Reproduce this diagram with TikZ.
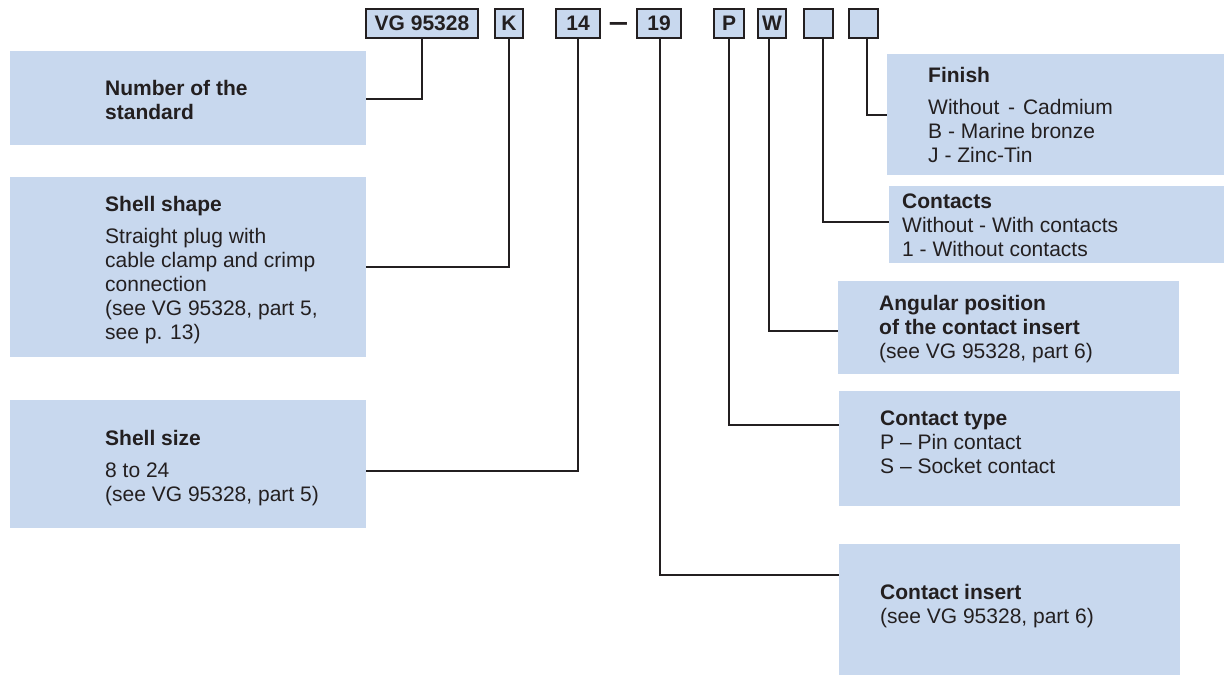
\documentclass[tikz,border=0pt]{standalone}
\usepackage{fontspec}
\setmainfont{Liberation Sans}
\definecolor{boxblue}{HTML}{C8D8EE}
\definecolor{ink}{HTML}{231F20}
\begin{document}
\begin{tikzpicture}[x=1pt,y=-1pt,
  lbox/.style={fill=boxblue, draw=none, inner sep=0pt, anchor=north west},
  tbox/.style={fill=boxblue, draw=ink, line width=1.8pt, inner sep=0pt, minimum height=29pt,
    font=\fontsize{21}{24}\selectfont\bfseries, text=ink},
  txt/.style={anchor=base west, inner sep=0pt, align=left, font=\fontsize{21}{24}\selectfont, text=ink},
  conn/.style={draw=ink, line width=1.6pt}]
\useasboundingbox (0,0) rectangle (1224,675);

% description boxes
\node[lbox, minimum width=356pt, minimum height=94pt]  (num)  at (10,51) {};
\node[lbox, minimum width=356pt, minimum height=180pt] (shape) at (10,177) {};
\node[lbox, minimum width=356pt, minimum height=128pt] (size) at (10,400) {};
\node[lbox, minimum width=337pt, minimum height=121pt] (finish) at (887,54) {};
\node[lbox, minimum width=335pt, minimum height=77pt]  (cont) at (889,186) {};
\node[lbox, minimum width=341pt, minimum height=93pt]  (ang)  at (838,281) {};
\node[lbox, minimum width=341pt, minimum height=115pt] (ctype) at (839,391) {};
\node[lbox, minimum width=341pt, minimum height=131pt] (ins)  at (839,544) {};

% texts (anchored at the baseline of their last line)
\node[txt] (tnum) at (105,119) {\textbf{Number of the}\\\textbf{standard}};
\node[txt] (tshape) at (105,339) {\textbf{Shell shape}\\[8pt]Straight plug with\\cable clamp and crimp\\connection\\(see VG 95328, part 5,\\see p. 13)};
\node[txt] (tsize) at (105,501) {\textbf{Shell size}\\[8pt]8 to 24\\(see VG 95328, part 5)};
\node[txt] (tfinish) at (928,162) {\textbf{Finish}\\[8pt]Without\hspace{3pt} - \hspace{2pt}Cadmium\\B - Marine bronze\\J - Zinc-Tin};
\node[txt] (tcont) at (902,256) {\textbf{Contacts}\\Without - With contacts\\1 - Without contacts};
\node[txt] (tang) at (879,358) {\textbf{Angular position}\\\textbf{of the contact insert}\\(see VG 95328, part 6)};
\node[txt] (tctype) at (880,473) {\textbf{Contact type}\\P – Pin contact\\S – Socket contact};
\node[txt] (tins) at (880,623) {\textbf{Contact insert}\\(see VG 95328, part 6)};

% code boxes
\node[tbox, minimum width=112pt] (vg) at (422,23.5) {VG 95328};
\node[tbox, minimum width=28pt]  (k)  at (509,23.5) {K};
\node[tbox, minimum width=44pt]  (s14) at (578,23.5) {14};
\node[inner sep=0pt, font=\fontsize{21}{24}\selectfont\bfseries, text=ink] (dash) at (618.5,27) {\scalebox{0.82}[1.35]{—}};
\node[tbox, minimum width=44pt]  (s19) at (659,23.5) {19};
\node[tbox, minimum width=30pt]  (p)  at (729,23.5) {P};
\node[tbox, minimum width=28pt]  (w)  at (772,23.5) {W};
\node[tbox, minimum width=29pt]  (b1) at (818.5,23.5) {};
\node[tbox, minimum width=29pt]  (b2) at (863.5,23.5) {};

% helper heights
\coordinate (y1) at (0,99);
\coordinate (y2) at (0,267);
\coordinate (y3) at (0,471);
\coordinate (y4) at (0,115);
\coordinate (y5) at (0,222);
\coordinate (y6) at (0,331);
\coordinate (y7) at (0,425);
\coordinate (y8) at (0,575);

% connectors
\draw[conn] (vg.south) |- (num.east |- y1);
\draw[conn] (k.south) |- (shape.east |- y2);
\draw[conn] (s14.south) |- (size.east |- y3);
\draw[conn] ([xshift=3.5pt]b2.south) |- (finish.west |- y4);
\draw[conn] ([xshift=4.5pt]b1.south) |- (cont.west |- y5);
\draw[conn] ([xshift=-3pt]w.south) |- (ang.west |- y6);
\draw[conn] (p.south) |- (ctype.west |- y7);
\draw[conn] ([xshift=1pt]s19.south) |- (ins.west |- y8);
\end{tikzpicture}
\end{document}
